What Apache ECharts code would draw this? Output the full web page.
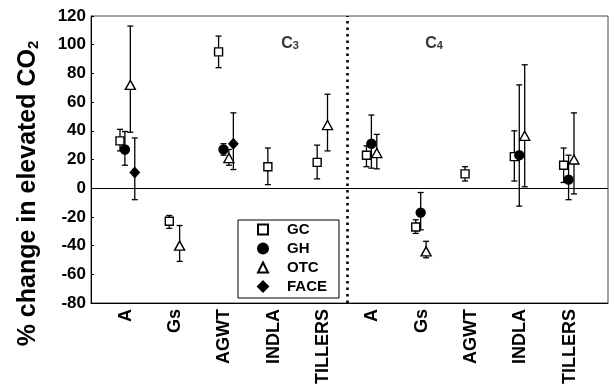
<!DOCTYPE html>
<html><head><meta charset="utf-8">
<script src="https://cdn.jsdelivr.net/npm/echarts@6/dist/echarts.min.js"></script>
<style>html,body{margin:0;padding:0;background:#fff}#c{width:610px;height:387px}</style>
</head><body><div id="c"></div>
<script>
const categories = ['A','Gs','AGWT','INDLA','TILLERS','A','Gs','AGWT','INDLA','TILLERS'];
const seriesNames = ['GC','GH','OTC','FACE'];
const gcVal = [33, -23, 95, 15, 18, 23, -27, 10, 22, 16];
const gcHi  = [41, -19, 106, 28, 30, 29.5, -22, 15, 40, 28];
const gcLo  = [26, -28, 84, 2.5, 6.5, 15, -31.5, 5, 5, 4];
const ghVal = [27, null, 27, null, null, 31, -17, null, 23, 6];
const ghHi  = [39.5, null, 31, null, null, 51, -3, null, 72, 23];
const ghLo  = [16, null, 23, null, null, 14, -29, null, -12.5, -8];
const otcVal = [72, -40, 21, null, 44, 24.5, -44, null, 36.5, 20];
const otcHi  = [113, -26, 27, null, 65.5, 37.5, -37, null, 86, 52.5];
const otcLo  = [39, -51, 16, null, 26, 13.5, -48.5, null, 1, -4];
const faceVal = [11, null, 31, null, null, null, null, null, null, null];
const faceHi  = [35, null, 52.5, null, null, null, null, null, null, null];
const faceLo  = [-8, null, 13, null, null, null, null, null, null, null];
const groupLabels = [['C','3'], ['C','4']];
const yMin = -80, yMax = 120, yStep = 20;

// layout / style constants
const offsets = [0, 0.1, 0.21, 0.3];
const labelShift = 0.12;
const dividerX = 4.62;
const groupLabelPos = [[3.45, 101], [6.37, 101]];
const FONT = 'Liberation Sans, Arial, sans-serif';

const vals = [gcVal, ghVal, otcVal, faceVal];
const his = [gcHi, ghHi, otcHi, faceHi];
const los = [gcLo, ghLo, otcLo, faceLo];
const symbols = ['rect', 'circle', 'triangle', 'diamond'];
const sizes = [[8,8], 9, [10,9], [9,10]];
const fills = ['#fff', '#000', '#fff', '#000'];

const series = [];
seriesNames.forEach((name, s) => {
  const pts = [], errs = [];
  vals[s].forEach((v, i) => {
    if (v === null) return;
    pts.push([i + offsets[s], v]);
    errs.push([i + offsets[s], his[s][i], los[s][i]]);
  });
  series.push({
    type: 'custom', name: name + '_err', silent: true, z: 2,
    data: errs,
    renderItem: function (params, api) {
      const x = api.value(0);
      const a = api.coord([x, api.value(1)]);
      const b = api.coord([x, api.value(2)]);
      const w = 3;
      const st = { stroke: '#000', lineWidth: 1.3 };
      return { type: 'group', children: [
        { type: 'line', shape: { x1: a[0], y1: a[1], x2: b[0], y2: b[1] }, style: st },
        { type: 'line', shape: { x1: a[0]-w, y1: a[1], x2: a[0]+w, y2: a[1] }, style: st },
        { type: 'line', shape: { x1: b[0]-w, y1: b[1], x2: b[0]+w, y2: b[1] }, style: st }
      ]};
    }
  });
  series.push({
    type: 'scatter', name: name, z: 5,
    symbol: symbols[s], symbolSize: sizes[s],
    itemStyle: { color: fills[s], borderColor: '#000', borderWidth: 1.4, opacity: 1 },
    data: pts
  });
});

series.push({
  type: 'scatter', name: 'lines', silent: true, symbolSize: 0, data: [],
  markLine: {
    silent: true, symbol: 'none', label: { show: false },
    data: [
      { yAxis: 0, lineStyle: { color: '#000', width: 1.2, type: 'solid' } },
      { xAxis: dividerX, lineStyle: { color: '#000', width: 2.6, type: [2.5, 4] } }
    ]
  }
});
series.push({
  type: 'scatter', name: 'groups', silent: true, symbolSize: 0, z: 6,
  data: groupLabels.map((g, k) => [groupLabelPos[k][0], groupLabelPos[k][1], g[0], g[1]]),
  label: {
    show: true, position: 'inside',
    formatter: p => '{c|' + p.value[2] + '}{s|' + p.value[3] + '}',
    rich: {
      c: { fontFamily: FONT, fontWeight: 'bold', fontSize: 16, color: '#000' },
      s: { fontFamily: FONT, fontWeight: 'bold', fontSize: 11, color: '#000', verticalAlign: 'bottom', padding: [6,0,0,0] }
    }
  }
});

const chart = echarts.init(document.getElementById('c'), null, { renderer: 'canvas' });
chart.setOption({
  animation: false,
  backgroundColor: '#fff',
  grid: { left: 91, right: 2, top: 16, bottom: 82, show: true, borderColor: '#444', borderWidth: 1 },
  legend: {
    data: seriesNames, orient: 'vertical', left: 238, top: 220,
    padding: [2, 12, 4, 19], itemGap: 4, itemWidth: 10, itemHeight: 10,
    borderColor: '#000', borderWidth: 1, backgroundColor: '#fff',
    textStyle: { fontFamily: FONT, fontWeight: 'bold', fontSize: 15, color: '#000', padding: [0,0,0,14] }
  },
  xAxis: {
    type: 'value', min: -0.588, max: 9.9,
    axisLine: { show: true, onZero: false, lineStyle: { color: '#000', width: 1 } },
    axisTick: { show: false }, splitLine: { show: false },
    axisLabel: {
      customValues: categories.map((c, i) => i + labelShift),
      rotate: 90, margin: 6,
      fontFamily: FONT, fontWeight: 'bold', fontSize: 18, color: '#000',
      formatter: v => categories[Math.round(v - labelShift)]
    }
  },
  yAxis: {
    type: 'value', min: yMin, max: yMax, interval: yStep,
    name: '% change in elevated CO{s|2}', nameLocation: 'middle', nameGap: 50,
    nameTextStyle: {
      fontFamily: FONT, fontWeight: 'bold', fontSize: 25, color: '#000', padding: [0, 68, 0, 0],
      rich: { s: { fontFamily: FONT, fontWeight: 'bold', fontSize: 15, color: '#000', verticalAlign: 'bottom', padding: [10,0,0,0] } }
    },
    axisLine: { show: true, onZero: false, lineStyle: { color: '#000', width: 1 } },
    axisTick: { show: true, inside: true, length: 3, lineStyle: { color: '#000' } },
    splitLine: { show: false },
    axisLabel: { fontFamily: FONT, fontWeight: 'bold', fontSize: 17, color: '#000', margin: 5 }
  },
  series: series
});
</script></body></html>
